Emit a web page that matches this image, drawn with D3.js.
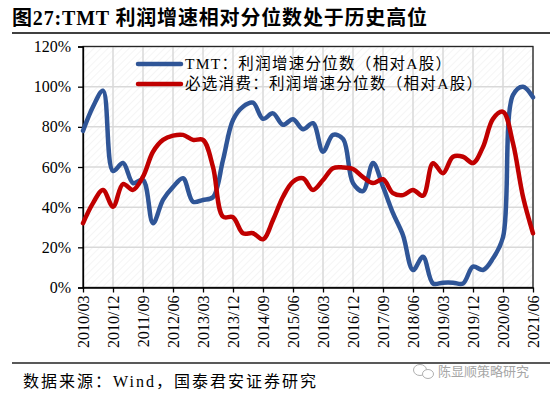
<!DOCTYPE html>
<html>
<head>
<meta charset="utf-8">
<script src="https://cdn.jsdelivr.net/npm/d3@7"></script>
<style>
  body { margin: 0; background: #fff; }
  svg { display: block; }
</style>
</head>
<body>
<svg width="550" height="397"></svg>
<script>
const svg = d3.select("svg");

const quarters = [
  "2010/03", "2010/06", "2010/09", "2010/12", "2011/03", "2011/06", "2011/09", "2011/12",
  "2012/03", "2012/06", "2012/09", "2012/12", "2013/03", "2013/06", "2013/09", "2013/12",
  "2014/03", "2014/06", "2014/09", "2014/12", "2015/03", "2015/06", "2015/09", "2015/12",
  "2016/03", "2016/06", "2016/09", "2016/12", "2017/03", "2017/06", "2017/09", "2017/12",
  "2018/03", "2018/06", "2018/09", "2018/12", "2019/03", "2019/06", "2019/09", "2019/12",
  "2020/03", "2020/06", "2020/09", "2020/12", "2021/03", "2021/06"
];

// percent values
const tmt = [78, 90, 98, 58, 62, 52, 53.5, 32, 43.6, 50, 54.4, 42.7, 43.6, 45, 63.5, 83.4,
  90, 92, 84, 86.7, 81, 83.8, 78.8, 81.8, 67.6, 76, 74, 52, 48, 62, 50.2, 37,
  26, 8.7, 15.3, 2, 2.4, 2.4, 2, 10.4, 8.7, 14.5, 25, 95.8, 100, 94.7];

const staples = [32, 42, 48.6, 40.2, 51.5, 48.6, 55.2, 67.6, 73.5, 75.6, 76, 73.5, 73.5, 60, 35.3, 35,
  27, 27, 24, 33.6, 45.2, 52.7, 54.4, 48.6, 53.5, 59.4, 59.8, 59, 55, 52, 53.9, 47,
  46, 48.6, 45.7, 61.9, 56.9, 65.1, 65.1, 62, 70, 84, 87.5, 71.8, 45.2, 27];

const yTicks = [0, 20, 40, 60, 80, 100, 120];
const xTickLabels = quarters.filter((d, i) => i % 3 === 0);

const seriesNames = ["TMT：利润增速分位数（相对A股）", "必选消费：利润增速分位数（相对A股）"];
const legendWidths = [266, 297];
const colors = ["#2F5597", "#C00000"];

const plotLeft = 83, plotRight = 533, plotTop = 46.5, plotBottom = 287.5;

const x = d3.scalePoint().domain(quarters).range([plotLeft, plotRight]);
const y = d3.scaleLinear().domain([0, 120]).range([plotBottom, plotTop]);

const serif = "'Times New Roman', 'Liberation Serif', 'Noto Sans CJK SC', serif";

// title
svg.append("text")
  .attr("x", 12)
  .attr("y", 25)
  .attr("textLength", 415)
  .attr("lengthAdjust", "spacing")
  .style("font-family", serif)
  .style("font-size", "20px")
  .style("font-weight", "bold")
  .style("fill", "#000")
  .text("图27:TMT 利润增速相对分位数处于历史高位");

svg.append("line")
  .attr("x1", 12).attr("x2", 550)
  .attr("y1", 33).attr("y2", 33)
  .style("stroke", "#000")
  .style("stroke-width", 1.5);

// hatch pattern
const defs = svg.append("defs");
const pattern = defs.append("pattern")
  .attr("id", "hatch")
  .attr("patternUnits", "userSpaceOnUse")
  .attr("width", 5)
  .attr("height", 5)
  .attr("patternTransform", "rotate(45)");
pattern.append("line")
  .attr("x1", 0).attr("y1", 0)
  .attr("x2", 0).attr("y2", 5)
  .style("stroke", "#ececec")
  .style("stroke-width", 1);

svg.append("rect")
  .attr("x", plotLeft).attr("y", plotTop)
  .attr("width", plotRight - plotLeft).attr("height", plotBottom - plotTop)
  .style("fill", "url(#hatch)");

// grid
svg.append("g")
  .selectAll("line")
  .data(yTicks)
  .join("line")
  .attr("x1", plotLeft).attr("x2", plotRight)
  .attr("y1", d => y(d)).attr("y2", d => y(d))
  .style("stroke", "#d9d9d9")
  .style("stroke-width", 1.5);

svg.append("g")
  .selectAll("line")
  .data(xTickLabels)
  .join("line")
  .attr("x1", d => x(d)).attr("x2", d => x(d))
  .attr("y1", plotTop).attr("y2", plotBottom)
  .style("stroke", "#d9d9d9")
  .style("stroke-width", 1.5);

// border
svg.append("rect")
  .attr("x", plotLeft).attr("y", plotTop)
  .attr("width", plotRight - plotLeft).attr("height", plotBottom - plotTop)
  .style("fill", "none")
  .style("stroke", "#262626")
  .style("stroke-width", 1.3);

// axes
const yAxis = svg.append("g")
  .attr("transform", `translate(${plotLeft},0)`)
  .call(d3.axisLeft(y).tickValues(yTicks).tickSize(5).tickPadding(7).tickFormat(d => d + "%"));

const xAxis = svg.append("g")
  .attr("transform", `translate(0,${plotBottom})`)
  .call(d3.axisBottom(x).tickValues(xTickLabels).tickSize(5).tickSizeOuter(0));

xAxis.selectAll("text")
  .attr("transform", "rotate(-90)")
  .attr("x", -8)
  .attr("y", 0)
  .attr("dy", "0.35em")
  .style("text-anchor", "end");

[yAxis, xAxis].forEach(a => {
  a.select(".domain").style("stroke", "#000").style("stroke-width", 1.3);
  a.selectAll(".tick line").style("stroke", "#000").style("stroke-width", 1.3);
  a.selectAll("text")
    .style("font-family", serif)
    .style("font-size", "16px")
    .style("fill", "#000");
});

// lines
const line = d3.line()
  .x((d, i) => x(quarters[i]))
  .y(d => y(d))
  .curve(d3.curveCatmullRom.alpha(0.5));

[tmt, staples].forEach((s, k) => {
  svg.append("path")
    .attr("d", line(s))
    .style("fill", "none")
    .style("stroke", colors[k])
    .style("stroke-width", 4.5)
    .style("stroke-linejoin", "round")
    .style("stroke-linecap", "round");
});

// legend
const legend = svg.append("g");
seriesNames.forEach((name, k) => {
  const ly = 64 + k * 20;
  legend.append("line")
    .attr("x1", 138).attr("x2", 181)
    .attr("y1", ly).attr("y2", ly)
    .style("stroke", colors[k])
    .style("stroke-width", 4.5)
    .style("stroke-linecap", "round");
  legend.append("text")
    .attr("x", 185)
    .attr("y", ly)
    .attr("dy", "0.35em")
    .attr("textLength", legendWidths[k])
    .attr("lengthAdjust", "spacing")
    .style("font-family", serif)
    .style("font-size", "15.5px")
    .style("fill", "#000")
    .text(name);
});

// footer
svg.append("line")
  .attr("x1", 12).attr("x2", 550)
  .attr("y1", 363).attr("y2", 363)
  .style("stroke", "#595959")
  .style("stroke-width", 2);

svg.append("text")
  .attr("x", 23)
  .attr("y", 387)
  .style("font-family", serif)
  .style("font-size", "16px")
  .style("letter-spacing", "2px")
  .style("fill", "#000")
  .text("数据来源：Wind，国泰君安证券研究");

// watermark
const wm = svg.append("g").style("fill", "none").style("stroke", "#b0b0b0").style("stroke-width", 1);
wm.append("ellipse").attr("cx", 420).attr("cy", 370).attr("rx", 6.5).attr("ry", 5.5);
wm.append("ellipse").attr("cx", 428).attr("cy", 374).attr("rx", 5.5).attr("ry", 4.5).style("fill", "#fff");
svg.append("text")
  .attr("x", 438)
  .attr("y", 376)
  .style("font-family", "'Noto Sans CJK SC', sans-serif")
  .style("font-size", "13px")
  .style("fill", "#a6a6a6")
  .text("陈显顺策略研究");
</script>
</body>
</html>
